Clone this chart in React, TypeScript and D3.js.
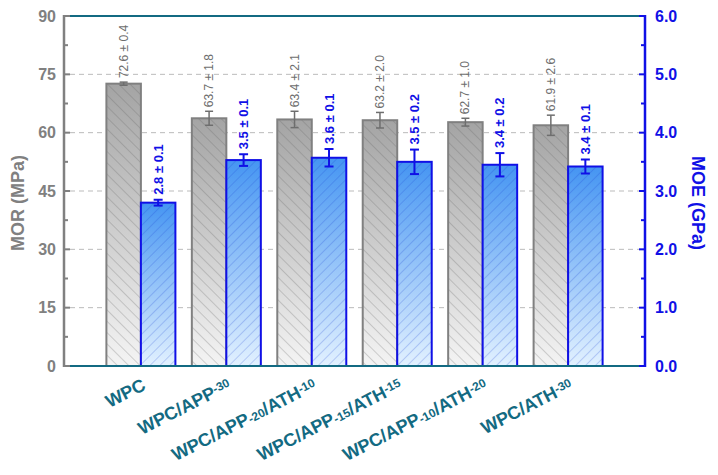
import React from 'react';
import * as d3 from 'd3';

// sample groups, x labels split into [text, isSmall, raised]
const groups = ['WPC', 'WPC/APP-30', 'WPC/APP-20/ATH-10', 'WPC/APP-15/ATH-15', 'WPC/APP-10/ATH-20', 'WPC/ATH-30'];
const labelParts: [string, boolean, boolean][][] = [
  [['WPC', false, false]],
  [['WPC/APP', false, false], ['-30', true, true]],
  [['WPC/APP', false, false], ['-20', true, false], ['/ATH', false, false], ['-10', true, true]],
  [['WPC/APP', false, false], ['-15', true, false], ['/ATH', false, false], ['-15', true, true]],
  [['WPC/APP', false, false], ['-10', true, false], ['/ATH', false, false], ['-20', true, true]],
  [['WPC/ATH', false, false], ['-30', true, true]],
];

const morMean = [72.6, 63.7, 63.4, 63.2, 62.7, 61.9];
const morErr = [0.4, 1.8, 2.1, 2.0, 1.0, 2.6];
const moeMean = [2.8, 3.53, 3.57, 3.5, 3.45, 3.42];
const moeErr = [0.05, 0.1, 0.15, 0.21, 0.2, 0.12];
const morLabels = ['72.6 ± 0.4', '63.7 ± 1.8', '63.4 ± 2.1', '63.2 ± 2.0', '62.7 ± 1.0', '61.9 ± 2.6'];
const moeLabels = ['2.8 ± 0.1', '3.5 ± 0.1', '3.6 ± 0.1', '3.5 ± 0.2', '3.4 ± 0.2', '3.4 ± 0.1'];

const morTicks = [0, 15, 30, 45, 60, 75, 90];
const moeTicks = [0, 1, 2, 3, 4, 5, 6];

const W = 718, H = 475;
const left = 64, right = 645, top = 16, bottom = 366;
const font = 'Arial, "Liberation Sans", sans-serif';
const GRAY = '#808080';
const BLUE = '#1010e6';
const TEAL = '#136a82';

export default function App() {
  const x = d3.scalePoint<number>().domain(d3.range(groups.length)).range([left, right]).padding(0.9);
  const yL = d3.scaleLinear().domain([0, 90]).range([bottom, top]);
  const yR = d3.scaleLinear().domain([0, 6]).range([bottom, top]);
  const bw = 34.5;

  const minorL = d3.range(7.5, 90, 15);
  const minorR = d3.range(0.5, 6, 1);

  return (
    <svg width={W} height={H} style={{ position: 'absolute', left: 0, top: 0, background: '#fff' }}>
      <defs>
        <linearGradient id="gGray" x1="0" y1="0" x2="0" y2="1">
          <stop offset="0" stopColor="#a4a4a4" />
          <stop offset="1" stopColor="#f4f4f4" />
        </linearGradient>
        <linearGradient id="gBlue" x1="0" y1="0" x2="0" y2="1">
          <stop offset="0" stopColor="#4595f2" />
          <stop offset="1" stopColor="#e2f1ff" />
        </linearGradient>
        <pattern id="hGray" width="8" height="8" patternUnits="userSpaceOnUse" patternTransform="rotate(-45)">
          <line x1="0" y1="0" x2="0" y2="8" stroke="#5e5e5e" strokeWidth="0.8" strokeOpacity="0.65" />
        </pattern>
        <pattern id="hBlue" width="7" height="7" patternUnits="userSpaceOnUse" patternTransform="rotate(45)">
          <line x1="0" y1="0" x2="0" y2="7" stroke="#1a3fd0" strokeWidth="0.8" strokeOpacity="0.55" />
        </pattern>
      </defs>

      {/* grid */}
      {morTicks.filter(t => t > 0 && t < 90).map(t => (
        <line key={t} x1={left + 6} x2={right - 6} y1={yL(t)} y2={yL(t)} stroke="#bbb" strokeDasharray="5,4" strokeWidth={1} />
      ))}

      {/* bars */}
      {groups.map((g, i) => {
        const cx = x(i)!;
        const gx = cx - bw, bx = cx;
        const my = yL(morMean[i]), ey = yR(moeMean[i]);
        return (
          <g key={g}>
            <rect x={gx} y={my} width={bw} height={bottom - my} fill="url(#gGray)" />
            <rect x={gx} y={my} width={bw} height={bottom - my} fill="url(#hGray)" stroke={GRAY} strokeWidth={2} />
            <rect x={bx} y={ey} width={bw} height={bottom - ey} fill="url(#gBlue)" />
            <rect x={bx} y={ey} width={bw} height={bottom - ey} fill="url(#hBlue)" stroke={BLUE} strokeWidth={2} />
            {/* error bars */}
            <g stroke="#6e6e6e" strokeWidth={1.5}>
              <line x1={gx + bw / 2} x2={gx + bw / 2} y1={yL(morMean[i] - morErr[i])} y2={yL(morMean[i] + morErr[i])} />
              <line x1={gx + bw / 2 - 4} x2={gx + bw / 2 + 4} y1={yL(morMean[i] - morErr[i])} y2={yL(morMean[i] - morErr[i])} />
              <line x1={gx + bw / 2 - 4} x2={gx + bw / 2 + 4} y1={yL(morMean[i] + morErr[i])} y2={yL(morMean[i] + morErr[i])} />
            </g>
            <g stroke={BLUE} strokeWidth={2}>
              <line x1={bx + bw / 2} x2={bx + bw / 2} y1={yR(moeMean[i] - moeErr[i])} y2={yR(moeMean[i] + moeErr[i])} />
              <line x1={bx + bw / 2 - 4.5} x2={bx + bw / 2 + 4.5} y1={yR(moeMean[i] - moeErr[i])} y2={yR(moeMean[i] - moeErr[i])} />
              <line x1={bx + bw / 2 - 4.5} x2={bx + bw / 2 + 4.5} y1={yR(moeMean[i] + moeErr[i])} y2={yR(moeMean[i] + moeErr[i])} />
            </g>
            {/* value labels */}
            <text transform={`translate(${gx + bw / 2},${yL(morMean[i] + morErr[i]) - 4}) rotate(-90)`}
              dominantBaseline="central" fontSize={12} fill="#6e6e6e" fontFamily={font}>{morLabels[i]}</text>
            <text transform={`translate(${bx + bw / 2},${yR(moeMean[i] + moeErr[i]) - 5}) rotate(-90)`}
              dominantBaseline="central" fontSize={13} fontWeight="bold" fill={BLUE} fontFamily={font}>{moeLabels[i]}</text>
            {/* x label */}
            <text transform={`translate(${cx + 6},389) rotate(-27)`} textAnchor="end" fontFamily={font}
              fontWeight="bold" fontSize={18} fill={TEAL}>
              {labelParts[i].map(([t, small, raised], k) => (
                <tspan key={k} fontSize={small ? 12 : 18} baselineShift={small && raised ? '35%' : '0'}>{t}</tspan>
              ))}
            </text>
          </g>
        );
      })}

      {/* frame */}
      <line x1={left} x2={right} y1={top} y2={top} stroke={TEAL} strokeWidth={2} />
      <line x1={left} x2={right} y1={bottom} y2={bottom} stroke={TEAL} strokeWidth={2} />
      <line x1={left} x2={left} y1={top - 1} y2={bottom + 1} stroke={GRAY} strokeWidth={2.5} />
      <line x1={right} x2={right} y1={top - 1} y2={bottom + 1} stroke={BLUE} strokeWidth={2.5} />

      {/* left axis */}
      {morTicks.map(t => (
        <g key={t}>
          <line x1={left} x2={left + 6} y1={yL(t)} y2={yL(t)} stroke={GRAY} strokeWidth={2} />
          <text x={left - 8} y={yL(t)} textAnchor="end" dominantBaseline="central" fontFamily={font}
            fontWeight="bold" fontSize={16} fill={GRAY}>{t}</text>
        </g>
      ))}
      {minorL.map(t => (
        <line key={t} x1={left} x2={left + 4} y1={yL(t)} y2={yL(t)} stroke={GRAY} strokeWidth={2} />
      ))}

      {/* right axis */}
      {moeTicks.map(t => (
        <g key={t}>
          <line x1={right - 6} x2={right} y1={yR(t)} y2={yR(t)} stroke={BLUE} strokeWidth={2} />
          <text x={right + 10} y={yR(t)} dominantBaseline="central" fontFamily={font}
            fontWeight="bold" fontSize={16} fill={BLUE}>{d3.format('.1f')(t)}</text>
        </g>
      ))}
      {minorR.map(t => (
        <line key={t} x1={right - 4} x2={right} y1={yR(t)} y2={yR(t)} stroke={BLUE} strokeWidth={2} />
      ))}

      {/* axis titles */}
      <text transform={`translate(18,${(top + bottom) / 2 + 12}) rotate(-90)`} textAnchor="middle" dominantBaseline="central"
        fontFamily={font} fontWeight="bold" fontSize={18} fill={GRAY}>MOR (MPa)</text>
      <text transform={`translate(698,${(top + bottom) / 2 + 12}) rotate(90)`} textAnchor="middle" dominantBaseline="central"
        fontFamily={font} fontWeight="bold" fontSize={18} fill={BLUE}>MOE (GPa)</text>
    </svg>
  );
}
